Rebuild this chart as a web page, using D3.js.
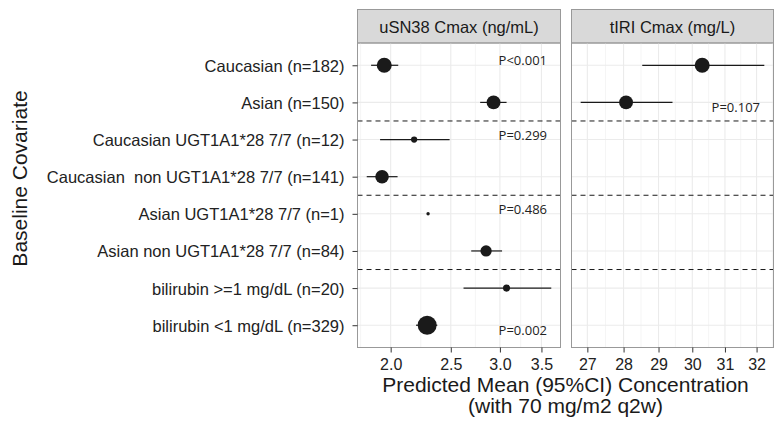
<!DOCTYPE html>
<html>
<head>
<meta charset="utf-8">
<script src="https://cdn.jsdelivr.net/npm/d3@7"></script>
<style>
  body { margin: 0; background: #fff; }
  svg { display: block; font-family: "Liberation Sans", Arial, sans-serif; }
  text { white-space: pre; }
  .tick text { fill: #222; }
  .tick line { stroke: #333; }
  .pval { font-family: "Open Sans", sans-serif; font-size: 13px; fill: #222; }
</style>
</head>
<body>
<svg width="777" height="422"></svg>
<script>
(function (d3) {
  "use strict";

  // covariate rows, top to bottom
  const covariates = [
    "Caucasian (n=182)",
    "Asian (n=150)",
    "Caucasian UGT1A1*28 7/7 (n=12)",
    "Caucasian  non UGT1A1*28 7/7 (n=141)",
    "Asian UGT1A1*28 7/7 (n=1)",
    "Asian non UGT1A1*28 7/7 (n=84)",
    "bilirubin >=1 mg/dL (n=20)",
    "bilirubin <1 mg/dL (n=329)"
  ];
  const covariateGroup = ["race", "race", "cauc", "cauc", "asian", "asian", "bili", "bili"];
  const subjectCounts = [182, 150, 12, 141, 1, 84, 20, 329];

  // uSN38 Cmax (ng/mL)
  const uSN38Mean = [1.953, 2.93, 2.182, 1.937, 2.298, 2.85, 3.075, 2.29];
  const uSN38Lower = [1.86, 2.788, 1.923, 1.83, null, 2.697, 2.621, 2.197];
  const uSN38Upper = [2.057, 3.075, 2.489, 2.052, null, 3.024, 3.63, 2.378];
  const uSN38Ticks = [2.0, 2.5, 3.0, 3.5];
  const uSN38PLabels = ["P<0.001", "P=0.299", "P=0.486", "P=0.002"];
  const uSN38PRows = [0, 2, 4, 7];
  const uSN38PSide = ["above", "above", "above", "below"];

  // tIRI Cmax (mg/L), race rows only
  const tIRIMean = [30.3, 28.07];
  const tIRILower = [28.53, 26.82];
  const tIRIUpper = [32.25, 29.41];
  const tIRITicks = [27, 28, 29, 30, 31, 32];
  const tIRIPLabels = ["P=0.107"];
  const tIRIPRows = [1];
  const tIRIPSide = ["below"];

  const svg = d3.select("svg");

  const stripTop = 9.5;
  const panelTop = 43;
  const panelBottom = 347.5;

  const yScale = d3
    .scalePoint()
    .domain(covariates)
    .range([panelTop, panelBottom])
    .padding(0.6);
  const step = yScale.step();

  const sizeScale = d3.scaleSqrt().domain([0, 1]).range([1.7, 9.5]);
  const nExtent = d3.extent(subjectCounts);
  const radius = (n) => sizeScale((n - nExtent[0]) / (nExtent[1] - nExtent[0]));

  const rows = (mean, lower, upper) =>
    mean.map((m, i) => ({
      label: covariates[i],
      n: subjectCounts[i],
      mean: m,
      lower: lower[i],
      upper: upper[i]
    }));

  const panels = [
    {
      title: "uSN38 Cmax (ng/mL)",
      left: 357.5,
      right: 560.5,
      data: rows(uSN38Mean, uSN38Lower, uSN38Upper),
      ticks: uSN38Ticks,
      format: d3.format(".1f"),
      pLabels: uSN38PLabels,
      pRows: uSN38PRows,
      pSide: uSN38PSide
    },
    {
      title: "tIRI Cmax (mg/L)",
      left: 571.5,
      right: 773.5,
      data: rows(tIRIMean, tIRILower, tIRIUpper),
      ticks: tIRITicks,
      format: d3.format("d"),
      pLabels: tIRIPLabels,
      pRows: tIRIPRows,
      pSide: tIRIPSide
    }
  ];

  // ggplot style: 5% expansion in log space
  const expandedLog = (data) => {
    const lo = Math.log(d3.min(data, (d) => (d.lower == null ? d.mean : d.lower)));
    const hi = Math.log(d3.max(data, (d) => (d.upper == null ? d.mean : d.upper)));
    const pad = (hi - lo) * 0.05;
    return [Math.exp(lo - pad), Math.exp(hi + pad)];
  };

  const minorBreaks = (ticks, domain) => {
    const lt = ticks.map(Math.log);
    const d0 = lt[1] - lt[0];
    const d1 = lt[lt.length - 1] - lt[lt.length - 2];
    const ext = [lt[0] - d0].concat(lt, [lt[lt.length - 1] + d1]);
    const out = [];
    for (let i = 0; i < ext.length - 1; i++) {
      const v = Math.exp((ext[i] + ext[i + 1]) / 2);
      if (v > domain[0] && v < domain[1]) out.push(v);
    }
    return out;
  };

  panels.forEach((p) => {
    const xScale = d3
      .scaleLog()
      .domain(expandedLog(p.data))
      .range([p.left, p.right]);
    const pw = p.right - p.left;

    const g = svg.append("g");

    // strip
    g.append("rect")
      .attr("x", p.left)
      .attr("y", stripTop)
      .attr("width", pw)
      .attr("height", panelTop - stripTop)
      .attr("fill", "#d9d9d9")
      .attr("stroke", "#999")
      .attr("stroke-width", 1);

    g.append("text")
      .attr("x", (p.left + p.right) / 2)
      .attr("y", 33.3)
      .attr("text-anchor", "middle")
      .attr("font-size", "16.5px")
      .attr("fill", "#1a1a1a")
      .text(p.title);

    // grid
    g.selectAll(".minor")
      .data(minorBreaks(p.ticks, xScale.domain()))
      .enter()
      .append("line")
      .attr("x1", (d) => xScale(d))
      .attr("x2", (d) => xScale(d))
      .attr("y1", panelTop)
      .attr("y2", panelBottom)
      .attr("stroke", "#f2f2f2")
      .attr("stroke-width", 0.8);

    g.selectAll(".major")
      .data(p.ticks)
      .enter()
      .append("line")
      .attr("x1", (d) => xScale(d))
      .attr("x2", (d) => xScale(d))
      .attr("y1", panelTop)
      .attr("y2", panelBottom)
      .attr("stroke", "#ebebeb")
      .attr("stroke-width", 1.1);

    g.selectAll(".hgrid")
      .data(covariates)
      .enter()
      .append("line")
      .attr("x1", p.left)
      .attr("x2", p.right)
      .attr("y1", (d) => yScale(d))
      .attr("y2", (d) => yScale(d))
      .attr("stroke", "#ebebeb")
      .attr("stroke-width", 1.1);

    // dashed separators between covariate groups
    const seps = covariates.filter((c, i) => i > 0 && covariateGroup[i] !== covariateGroup[i - 1]);
    g.selectAll(".sep")
      .data(seps)
      .enter()
      .append("line")
      .attr("x1", p.left)
      .attr("x2", p.right)
      .attr("y1", (d) => yScale(d) - step / 2)
      .attr("y2", (d) => yScale(d) - step / 2)
      .attr("stroke", "#1a1a1a")
      .attr("stroke-width", 1)
      .attr("stroke-dasharray", "5,4");

    // confidence intervals
    g.selectAll(".ci")
      .data(p.data.filter((d) => d.lower != null))
      .enter()
      .append("line")
      .attr("x1", (d) => xScale(d.lower))
      .attr("x2", (d) => xScale(d.upper))
      .attr("y1", (d) => yScale(d.label))
      .attr("y2", (d) => yScale(d.label))
      .attr("stroke", "#1a1a1a")
      .attr("stroke-width", 1.2);

    g.selectAll(".pt")
      .data(p.data)
      .enter()
      .append("circle")
      .attr("cx", (d) => xScale(d.mean))
      .attr("cy", (d) => yScale(d.label))
      .attr("r", (d) => radius(d.n))
      .attr("fill", "#1a1a1a");

    // p-values
    g.selectAll(".pval")
      .data(p.pLabels)
      .enter()
      .append("text")
      .attr("class", "pval")
      .attr("x", p.right - 13.5)
      .attr("y", (d, i) => yScale(covariates[p.pRows[i]]))
      .attr("dy", (d, i) => (p.pSide[i] === "below" ? "0.74em" : "0"))
      .attr("text-anchor", "end")
      .text((d) => d);

    // border
    g.append("rect")
      .attr("x", p.left)
      .attr("y", panelTop)
      .attr("width", pw)
      .attr("height", panelBottom - panelTop)
      .attr("fill", "none")
      .attr("stroke", "#999")
      .attr("stroke-width", 1);

    const xAxis = d3
      .axisBottom(xScale)
      .tickValues(p.ticks)
      .tickFormat(p.format)
      .tickSize(5)
      .tickPadding(6.5);

    const xAxisG = g
      .append("g")
      .attr("transform", `translate(0,${panelBottom})`)
      .call(xAxis);
    xAxisG.select(".domain").remove();
    xAxisG.selectAll("text").attr("font-size", "16px").attr("font-family", null);
  });

  const yAxis = d3.axisLeft(yScale).tickSize(5).tickPadding(8);
  const yAxisG = svg
    .append("g")
    .attr("transform", `translate(${panels[0].left},0)`)
    .call(yAxis);
  yAxisG.select(".domain").remove();
  yAxisG
    .selectAll("text")
    .attr("font-size", "16.5px")
    .attr("font-family", null)
    .attr("dy", "0.36em");

  svg
    .append("text")
    .attr("transform", `translate(26.5,${(stripTop + panelBottom) / 2}) rotate(-90)`)
    .attr("text-anchor", "middle")
    .attr("font-size", "21px")
    .attr("fill", "#1a1a1a")
    .text("Baseline Covariate");

  const xTitle = svg
    .append("text")
    .attr("text-anchor", "middle")
    .attr("font-size", "21px")
    .attr("fill", "#1a1a1a");
  const cx = (panels[0].left + panels[1].right) / 2;
  xTitle.append("tspan").attr("x", cx).attr("y", 391.7).text("Predicted Mean (95%CI) Concentration");
  xTitle.append("tspan").attr("x", cx).attr("y", 412.7).text("(with 70 mg/m2 q2w)");
})(d3);
</script>
</body>
</html>
